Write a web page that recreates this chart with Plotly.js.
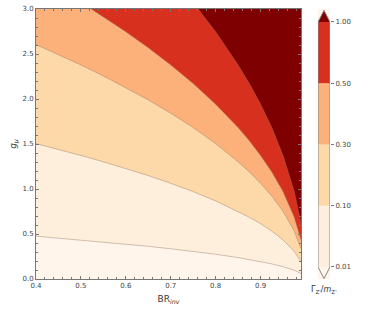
<!DOCTYPE html>
<html>
<head>
<meta charset="utf-8">
<script src="https://cdn.plot.ly/plotly-3.0.1.min.js"></script>
<style>html,body{margin:0;padding:0;background:#fff;}#chart{width:374px;height:311px;}</style>
</head>
<body>
<div id="chart"></div>
<script>
// Contour levels of Gamma_Z'/m_Z' and colours
const levels = [0.01, 0.10, 0.30, 0.50, 1.00];
const levelLabels = ["0.01", "0.10", "0.30", "0.50", "1.00"];
const underColor = "#fff5eb";
const bandColors = ["#feefdd", "#fdd8a8", "#fcb17b", "#d7301f"];
const overColor = "#7f0000";

// Contour boundaries: BR_inv (x) and g_mu (y)
const br_001 = [0.40,0.45,0.50,0.55,0.60,0.65,0.70,0.75,0.80,0.85,0.875,0.90,0.925,0.95,0.975,0.99];
const g_001  = [0.476,0.455,0.434,0.412,0.388,0.363,0.336,0.307,0.275,0.238,0.217,0.194,0.168,0.137,0.097,0.061];
const br_010 = [0.40,0.45,0.50,0.55,0.60,0.65,0.70,0.75,0.80,0.85,0.875,0.90,0.925,0.95,0.975,0.99];
const g_010  = [1.504,1.440,1.373,1.302,1.228,1.149,1.063,0.971,0.868,0.752,0.686,0.614,0.532,0.434,0.307,0.194];
const br_030 = [0.40,0.45,0.50,0.55,0.60,0.65,0.70,0.75,0.80,0.85,0.875,0.90,0.925,0.95,0.975,0.99];
const g_030  = [2.605,2.494,2.378,2.256,2.127,1.990,1.842,1.682,1.504,1.302,1.189,1.063,0.921,0.752,0.532,0.336];
const br_050 = [0.523,0.55,0.60,0.65,0.70,0.75,0.80,0.85,0.875,0.90,0.925,0.95,0.975,0.99];
const g_050  = [3.0,2.912,2.746,2.569,2.378,2.171,1.942,1.682,1.535,1.373,1.189,0.971,0.686,0.434];
const br_100 = [0.761,0.80,0.85,0.875,0.90,0.925,0.95,0.975,0.99];
const g_100  = [3.0,2.746,2.378,2.171,1.942,1.682,1.373,0.971,0.614];

const xRange = [0.4, 0.99];
const yRange = [0, 3];

const curves = [[br_001,g_001],[br_010,g_010],[br_030,g_030],[br_050,g_050],[br_100,g_100]];
const fills = bandColors.concat([overColor]);

const traces = [];
curves.forEach((c, i) => {
  const xs = c[0].concat([xRange[1] + 0.02, xRange[1] + 0.02, c[0][0]]);
  const ys = c[1].concat([c[1][c[1].length-1], yRange[1] + 0.1, yRange[1] + 0.1]);
  traces.push({type:'scatter', mode:'lines', x:xs, y:ys, fill:'toself', fillcolor:fills[i],
    line:{width:0}, hoverinfo:'skip', showlegend:false, xaxis:'x', yaxis:'y'});
});
curves.forEach((c) => {
  traces.push({type:'scatter', mode:'lines', x:c[0], y:c[1],
    line:{width:0.8, color:'rgba(150,120,100,0.55)'}, hoverinfo:'skip', showlegend:false, xaxis:'x', yaxis:'y'});
});

// Colour bar drawn on a second axis pair, one unit per level interval
const tip = 0.19;
const n = levels.length - 1;
traces.push({type:'scatter', mode:'lines', x:[0,1,0.5,0], y:[0,0,-tip,0], fill:'toself', fillcolor:underColor,
  line:{width:0}, hoverinfo:'skip', showlegend:false, xaxis:'x2', yaxis:'y2'});
for (let i = 0; i < n; i++) {
  traces.push({type:'scatter', mode:'lines', x:[0,1,1,0,0], y:[i,i,i+1,i+1,i], fill:'toself', fillcolor:bandColors[i],
    line:{width:0}, hoverinfo:'skip', showlegend:false, xaxis:'x2', yaxis:'y2'});
}
traces.push({type:'scatter', mode:'lines', x:[0,1,0.5,0], y:[n,n,n+tip,n], fill:'toself', fillcolor:overColor,
  line:{width:0}, hoverinfo:'skip', showlegend:false, xaxis:'x2', yaxis:'y2'});
traces.push({type:'scatter', mode:'lines', x:[0,0.5,1,1,0.5,0,0], y:[0,-tip,0,n,n+tip,n,0],
  line:{width:1, color:'#888'}, hoverinfo:'skip', showlegend:false, xaxis:'x2', yaxis:'y2'});

const tickFont = {family:'DejaVu Sans', size:7, color:'#444'};
const layout = {
  width:374, height:311,
  margin:{l:36, r:44, t:9, b:32},
  paper_bgcolor:'#fff', plot_bgcolor:underColor,
  showlegend:false,
  xaxis:{domain:[0, 265/294], range:xRange, dtick:0.1, tick0:0.4, tickformat:'.1f',
    ticks:'inside', ticklen:3, tickcolor:'#777', showline:true, linecolor:'#777', linewidth:1,
    mirror:'ticks', showgrid:false, zeroline:false, tickfont:tickFont,
    minor:{dtick:0.02, ticks:'inside', ticklen:2, tickcolor:'#777', showgrid:false},
    title:{text:'BR<sub><i>inv</i></sub>', font:{family:'DejaVu Sans', size:9, color:'#333'}, standoff:6}},
  yaxis:{range:yRange, dtick:0.5, tickformat:'.1f', ticks:'inside', ticklen:3, tickcolor:'#777',
    showline:true, linecolor:'#777', linewidth:1, mirror:'ticks', showgrid:false, zeroline:false,
    tickfont:tickFont,
    minor:{dtick:0.1, ticks:'inside', ticklen:2, tickcolor:'#777', showgrid:false},
    title:{text:'<i>g</i><sub><i>μ</i></sub>', font:{family:'DejaVu Sans', size:9, color:'#333'}, standoff:4}},
  xaxis2:{domain:[282/294, 1], range:[0,1], anchor:'y2', visible:false, fixedrange:true},
  yaxis2:{anchor:'x2', side:'right', range:[-0.196, n+0.212], tickvals:levels.map((v,i)=>i),
    ticktext:levelLabels, ticks:'outside', ticklen:3, tickcolor:'#777', showline:false,
    showgrid:false, zeroline:false, tickfont:tickFont},
  annotations:[{xref:'x2', yref:'paper', x:0.5, y:-0.015, yanchor:'top', xanchor:'center', showarrow:false,
    text:"Γ<sub>Z'</sub>/<i>m</i><sub>Z'</sub>", font:{family:'DejaVu Sans', size:8, color:'#333'}}]
};

Plotly.newPlot('chart', traces, layout, {staticPlot:true, displayModeBar:false});
</script>
</body>
</html>
